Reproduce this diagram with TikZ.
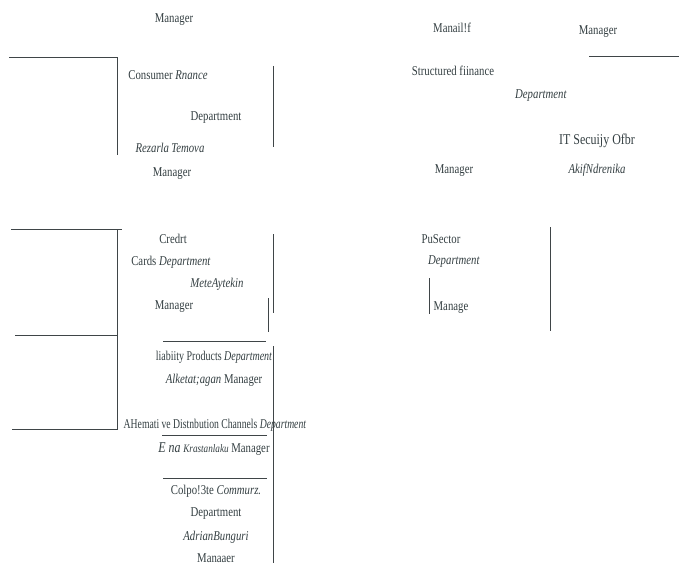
\documentclass[tikz,border=0pt]{standalone}
\usepackage{fontspec}
\setmainfont{Liberation Serif}[FakeStretch=0.8]
\definecolor{ink}{HTML}{333E41}
\definecolor{lnc}{HTML}{3F4548}
\begin{document}
\begin{tikzpicture}[x=1bp,y=-1bp,
  txt/.style={inner sep=0pt, text=ink, font=\fontsize{13.5}{15}\selectfont},
  big/.style={font=\fontsize{15}{17}\selectfont},
  ln/.style={draw=lnc, line width=1bp}]
\useasboundingbox (0,0) rectangle (679,565);
% texts
\node[txt] (m1) at (174,20) {Manager};
\node[txt] (cf) at (168,75) {Consumer \textit{Rnance}};
\node[txt] (cfd) at (216,118) {Department};
\node[txt] (cfn) at (170,148) {\textit{Rezarla\,Temova}};
\node[txt] (cfm) at (172,174) {Manager};
\node[txt] (sfm) at (452,28) {Manail!f};
\node[txt] (itm) at (598,32) {Manager};
\node[txt] (sf) at (453,71) {Structured fiinance};
\node[txt] (sfd) at (541,96) {\textit{Department}};
\node[txt,big] (it) at (597,141) {IT Secuijy Ofbr};
\node[txt] (sfm2) at (454,171) {Manager};
\node[txt] (itn) at (597,170) {\textit{AkifNdrenika}};
\node[txt] (cr1) at (173,239) {Credrt};
\node[txt] (cr2) at (171,262) {Cards \textit{Department}};
\node[txt] (crn) at (217,284) {\textit{MeteAytekin}};
\node[txt] (crm) at (174,307) {Manager};
\node[txt] (ps) at (441,239) {PuSector};
\node[txt] (psd) at (454,262) {\textit{Department}};
\node[txt] (psm) at (451,308) {Manage};
\node[txt] (lp) at (214,357) {\scalebox{0.93}[1]{liabiity Products \textit{Department}}};
\node[txt] (lpn) at (214,380) {\textit{Alketat;agan} Manager};
\node[txt] (ad) at (215,425) {\scalebox{0.9}[1]{AHemati ve Distnbution Channels \textit{Department}}};
\node[txt] (adn) at (214,449) {\textit{{\fontsize{15}{17}\selectfont E na} {\fontsize{11.5}{13}\selectfont Krastanlaku}} Manager};
\node[txt] (cc) at (216,491) {Colpo!3te \textit{Commurz.}};
\node[txt] (ccd) at (216,514) {Department};
\node[txt] (ccn) at (216,537) {\textit{AdrianBunguri}};
\node[txt] (ccm) at (216,558) {Manaaer};
% line end points
\coordinate (a1) at (9,58);    \coordinate (a2) at (118,58);
\coordinate (a3) at (117,58);  \coordinate (a4) at (117,155);
\coordinate (b1) at (273,66);  \coordinate (b2) at (273,147);
\coordinate (c1) at (589,57);  \coordinate (c2) at (679,57);
\coordinate (d1) at (11,229);  \coordinate (d2) at (122,229);
\coordinate (d3) at (117,229); \coordinate (d4) at (117,430);
\coordinate (e1) at (15,335);  \coordinate (e2) at (117,335);
\coordinate (f1) at (12,429);  \coordinate (f2) at (118,429);
\coordinate (g1) at (273,234); \coordinate (g2) at (273,313);
\coordinate (h1) at (268,298); \coordinate (h2) at (268,332);
\coordinate (i1) at (163,341); \coordinate (i2) at (266,341);
\coordinate (j1) at (273,346); \coordinate (j2) at (273,563);
\coordinate (k1) at (162,435); \coordinate (k2) at (267,435);
\coordinate (l1) at (163,478); \coordinate (l2) at (267,478);
\coordinate (p1) at (429,278); \coordinate (p2) at (429,314);
\coordinate (q1) at (550,227); \coordinate (q2) at (550,331);
\draw[ln] (a1) -- (a2);
\draw[ln] (a3) -- (a4);
\draw[ln] (b1) -- (b2);
\draw[ln] (c1) -- (c2);
\draw[ln] (d1) -- (d2);
\draw[ln] (d3) -- (d4);
\draw[ln] (e1) -- (e2);
\draw[ln] (f1) -- (f2);
\draw[ln] (g1) -- (g2);
\draw[ln] (h1) -- (h2);
\draw[ln] (i1) -- (i2);
\draw[ln] (j1) -- (j2);
\draw[ln] (k1) -- (k2);
\draw[ln] (l1) -- (l2);
\draw[ln] (p1) -- (p2);
\draw[ln] (q1) -- (q2);
\end{tikzpicture}
\end{document}
